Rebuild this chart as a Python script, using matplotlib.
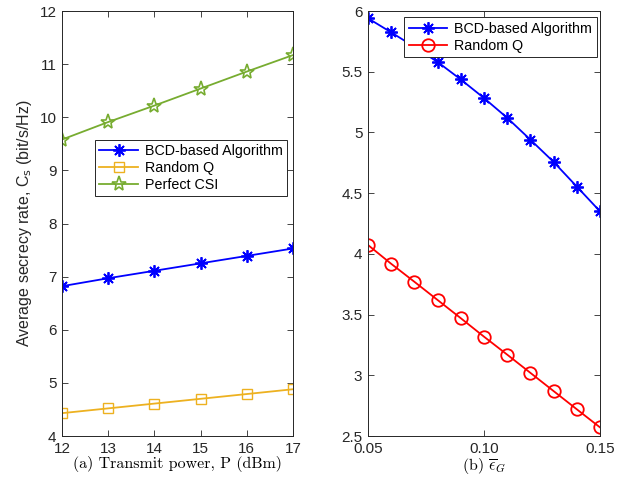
import numpy as np
import matplotlib
matplotlib.use("Agg")
import matplotlib.pyplot as plt

plt.rcParams['font.family'] = ['Liberation Sans', 'DejaVu Sans']
plt.rcParams['mathtext.fontset'] = 'cm'

# (a) secrecy rate vs transmit power
power = [12, 13, 14, 15, 16, 17]
bcd_a = [6.82, 6.97, 7.11, 7.25, 7.39, 7.53]
randq_a = [4.43, 4.52, 4.61, 4.70, 4.79, 4.88]
perfect_a = [9.58, 9.91, 10.22, 10.54, 10.86, 11.17]

# (b) secrecy rate vs eps_G
eps = [0.05, 0.06, 0.07, 0.08, 0.09, 0.10, 0.11, 0.12, 0.13, 0.14, 0.15]
bcd_b = [5.94, 5.824, 5.705, 5.58, 5.436, 5.283, 5.12, 4.94, 4.757, 4.554, 4.35]
randq_b = [4.073, 3.918, 3.77, 3.62, 3.47, 3.318, 3.17, 3.02, 2.87, 2.72, 2.571]

blue = (0, 0, 1)
orange = (0.929, 0.694, 0.125)
green = (0.466, 0.674, 0.188)
red = (1, 0, 0)
axcol = (0.15, 0.15, 0.15)
asterisk = (8, 2, 0)

fig = plt.figure(figsize=(6.21, 4.78), dpi=100)
ax1 = fig.add_axes([62/621, 42/478, 231/621, 425/478])
ax2 = fig.add_axes([368/621, 42/478, 232/621, 425/478])

def style(ax):
    ax.tick_params(direction='in', top=True, right=True, length=4, width=0.6,
                   labelsize=11, colors=axcol, pad=4)
    for s in ax.spines.values():
        s.set_color(axcol)
        s.set_linewidth(0.7)

ax1.plot(power, bcd_a, '-', marker=asterisk, color=blue, lw=1.3, ms=9, mew=1.3,
         label='BCD-based Algorithm')
ax1.plot(power, randq_a, '-s', color=orange, lw=1.3, ms=7, mfc='none', label='Random Q')
ax1.plot(power, perfect_a, '-*', color=green, lw=1.3, ms=11, mfc='none', mew=1.2,
         label='Perfect CSI')
ax1.set_xlim(12, 17)
ax1.set_ylim(4, 12)
ax1.set_xticks(power)
ax1.set_yticks(range(4, 13))
style(ax1)
ax1.set_xlabel('(a) Transmit power, P (dBm)', family='cmr10', fontsize=11.5, labelpad=0)
ax1.set_ylabel('Average secrecy rate, C$_\\mathrm{s}$ (bit/s/Hz)', fontsize=11.5, color=axcol,
               labelpad=4, math_fontfamily='dejavusans')
leg1 = ax1.legend(loc='upper left', bbox_to_anchor=(0.143, 0.697), fontsize=10.3, fancybox=False,
                  framealpha=1, edgecolor=axcol, handlelength=2.7, borderpad=0.3,
                  labelspacing=0.2, handletextpad=0.5, borderaxespad=0)
leg1.get_frame().set_linewidth(0.7)

ax2.plot(eps, bcd_b, '-', marker=asterisk, color=blue, lw=1.3, ms=9, mew=1.3,
         label='BCD-based Algorithm')
ax2.plot(eps, randq_b, '-o', color=red, lw=1.3, ms=9, mfc='none', mew=1.3, label='Random Q')
ax2.set_xlim(0.05, 0.15)
ax2.set_ylim(2.5, 6)
ax2.set_xticks([0.05, 0.10, 0.15])
ax2.set_xticklabels(['0.05', '0.10', '0.15'])
ax2.set_yticks([2.5, 3, 3.5, 4, 4.5, 5, 5.5, 6])
ax2.set_yticklabels(['2.5', '3', '3.5', '4', '4.5', '5', '5.5', '6'])
style(ax2)
ax2.set_xlabel('(b) $\\overline{\\epsilon}_G$', family='cmr10', fontsize=11.5, labelpad=0)
leg2 = ax2.legend(loc='upper right', bbox_to_anchor=(0.985, 0.985), fontsize=10.3, fancybox=False,
                  framealpha=1, edgecolor=axcol, handlelength=2.7, borderpad=0.3,
                  labelspacing=0.2, handletextpad=0.5, borderaxespad=0)
leg2.get_frame().set_linewidth(0.7)

fig.savefig('out.png', dpi=100)
